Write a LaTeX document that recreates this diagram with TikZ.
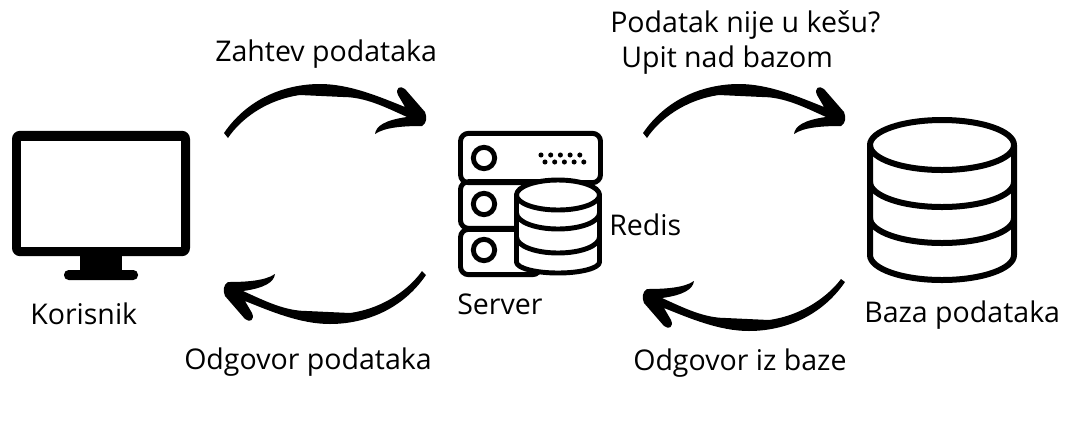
\documentclass[tikz,border=0pt]{standalone}
\usepackage{fontspec}
\setmainfont{Open Sans}
\tikzstyle{caption} = [
        inner sep=0pt,
        anchor=base west,
        font=\fontsize{21.4}{25}\selectfont
    ]
\tikzstyle{icon} = [
        draw=black,
        line width=3.7pt,
        line join=round
    ]
\tikzstyle{bigicon} = [
        icon,
        line width=4.5pt
    ]
\tikzstyle{screen} = [
        rectangle,
        rounded corners=6pt,
        minimum width=133.5pt,
        minimum height=94pt,
        inner sep=0pt,
        fill=black
    ]
\tikzstyle{glass} = [
        rectangle,
        minimum width=119.5pt,
        minimum height=79.5pt,
        inner sep=0pt,
        fill=white
    ]
\tikzstyle{knob} = [
        circle,
        minimum size=16pt,
        inner sep=0pt,
        draw=black,
        line width=3.7pt
    ]
\tikzstyle{rack} = [
        rectangle,
        rounded corners=6pt,
        inner sep=0pt,
        draw=black,
        line width=3.7pt
    ]
% hand drawn arrow, points are relative to its tip
\newcommand{\sketcharrow}[3]{
    \fill [shift={(#2)}, rotate=#3] (#1) -- (-201,18)
        .. controls (-175,-20) and (-135,-31) .. (-105,-31)
        .. controls (-75,-31) and (-45,-18) .. (-20,-8)
        -- (-27,-20) .. controls (-30,-27) and (-25,-30) .. (-20,-26)
        -- (0,-3) .. controls (2,2) and (2,8) .. (-3,11)
        .. controls (-20,11) and (-40,12) .. (-50,19)
        .. controls (-49,11) and (-40,5) .. (-18,2)
        .. controls (-40,-8) and (-60,-18) .. (-82,-18)
        -- (-125,-20) .. controls (-160,-15) and (-185,5) .. (#1) -- cycle;
}

\begin{document}
\begin{tikzpicture}[x=0.75pt,y=-0.75pt]
    \useasboundingbox (0,0) rectangle (1067,426);

    % monitor
    \node [screen] (monitor) at (101,193.5) {};
    \node [glass] (display) at (monitor) {};
    \fill (80,250) rectangle (122,275);
    \fill [rounded corners=3.5pt] (64,270) rectangle (138,280);

    % server
    \node [rack, minimum width=105pt, minimum height=37pt] (rack1) at (530.5,158) {};
    \node [rack, minimum width=80pt, minimum height=35pt] (rack2) at (513.8,205) {};
    \node [rack, minimum width=60pt, minimum height=34pt] (rack3) at (500.5,252) {};
    \node [knob] (knob1) at (484,158) {};
    \node [knob] (knob2) at (484,204) {};
    \node [knob] (knob3) at (484,250) {};
    \foreach \i in {0,...,4} {
        \fill (541+9.7*\i,155) circle (1.9pt);
        \fill (545+9.7*\i,162) circle (1.9pt);
    }

    % redis
    \draw [icon, fill=white] (516.5,195) -- (516.5,262) arc [start angle=180, end angle=0, x radius=41.5, y radius=11]
        -- (599.5,195) -- cycle;
    \draw [icon, fill=white] (558,195) ellipse [x radius=41.5, y radius=15];
    \draw [icon] (516.5,213) arc [start angle=180, end angle=0, x radius=41.5, y radius=16];
    \draw [icon] (516.5,237) arc [start angle=180, end angle=0, x radius=41.5, y radius=16];

    % database
    \draw [bigicon] (870,145) -- (870,255) arc [start angle=180, end angle=0, x radius=72, y radius=25] -- (1014,145);
    \draw [bigicon] (942,145) ellipse [x radius=72, y radius=25];
    \draw [bigicon] (870,182) arc [start angle=180, end angle=0, x radius=72, y radius=25];
    \draw [bigicon] (870,218) arc [start angle=180, end angle=0, x radius=72, y radius=25];

    % labels
    \node [caption] (zahtev) at (215,61) {Zahtev podataka};
    \node [caption] (nije) at (610,32) {Podatak nije u kešu?};
    \node [caption] (upit) at (621,67) {Upit nad bazom};
    \node [caption] (korisnik) at (30,324) {Korisnik};
    \node [caption] (server) at (457,314) {Server};
    \node [caption] (redis) at (609,235) {Redis};
    \node [caption] (baza) at (864,322) {Baza podataka};
    \node [caption] (odgovor) at (184,369) {Odgovor podataka};
    \node [caption] (izbaze) at (633,370) {Odgovor iz baze};

    % arrows
    \coordinate (tail1) at (228,138);
    \coordinate (tip1) at (425,115);
    \coordinate (tail2) at (647,138);
    \coordinate (tip2) at (844,115);
    \coordinate (tail3) at (841,279);
    \coordinate (tip3) at (644,300);
    \coordinate (tail4) at (422,271);
    \coordinate (tip4) at (225,293);

    \sketcharrow{tail1}{tip1}{0}
    \sketcharrow{tail2}{tip2}{0}
    \sketcharrow{tail3}{tip3}{180}
    \sketcharrow{tail4}{tip4}{180}
\end{tikzpicture}
\end{document}
